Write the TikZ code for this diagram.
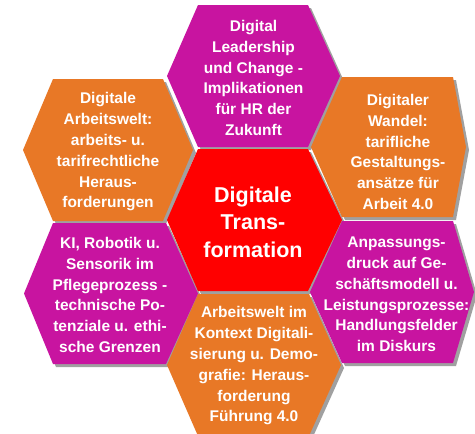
\documentclass[tikz,border=0pt]{standalone}
\usepackage{fontspec}
\setmainfont{Liberation Sans}
\definecolor{hexorange}{HTML}{E87826}
\definecolor{hexmagenta}{HTML}{C814A0}
\definecolor{hexred}{HTML}{FF0000}
\definecolor{hexshadow}{HTML}{A0A0A0}
% #1 colour, #2 left tip x, #3 top-left x, #4 top-right x, #5 right tip x, #6 top y, #7 bottom y
\newcommand\hexshape[7]{%
  \fill[#1] (#2,{(#6+#7)/2}) -- (#3,#6) -- (#4,#6) -- (#5,{(#6+#7)/2}) -- (#4,#7) -- (#3,#7) -- cycle;}
\tikzset{
  hexlabel/.style={text=white, align=center, inner sep=0pt,
    font=\bfseries\fontsize{15.5}{20.8}\selectfont},
  corelabel/.style={text=white, align=center, inner sep=0pt,
    font=\bfseries\fontsize{21.5}{27.5}\selectfont},
}
\begin{document}
\begin{tikzpicture}[x=1pt,y=-1pt]
\useasboundingbox (0,0) rectangle (475,434);
\fill[white] (0,0) rectangle (475,434);
% shadows
\begin{scope}[shift={(3,3)}]
\hexshape{hexshadow}{167}{198}{308}{340}{5}{147}
\hexshape{hexshadow}{167}{198}{308}{342}{149}{291}
\hexshape{hexshadow}{167}{198}{309}{341}{294}{436}
\hexshape{hexshadow}{23}{53}{163}{193}{79}{221}
\hexshape{hexshadow}{24}{53}{166}{198}{223}{364}
\hexshape{hexshadow}{311}{342}{453}{466}{77}{217}
\hexshape{hexshadow}{310}{342}{453}{474}{221}{363}
\end{scope}
% hexagons
\hexshape{hexmagenta}{167}{198}{308}{340}{5}{147}
\hexshape{hexred}{167}{198}{308}{342}{149}{291}
\hexshape{hexorange}{167}{198}{309}{341}{294}{436}
\hexshape{hexorange}{23}{53}{163}{193}{79}{221}
\hexshape{hexmagenta}{24}{53}{166}{198}{223}{364}
\hexshape{hexorange}{311}{342}{453}{466}{77}{217}
\hexshape{hexmagenta}{310}{342}{453}{474}{221}{363}
% labels
\node[hexlabel] (top) at (253.5,78) {Digital\\Leadership\\und Change -\\Implikationen\\für HR der\\Zukunft};
\node[corelabel] (core) at (253,222) {Digitale\\Trans-\\formation};
\node[hexlabel] (ul) at (108,152) {Digitale\\Arbeitswelt:\\arbeits- u.\\tarifrechtliche\\Heraus-\\forderungen};
\node[hexlabel] (ur) at (398,152) {Digitaler\\Wandel:\\tarifliche\\Gestaltungs-\\ansätze für\\Arbeit 4.0};
\node[hexlabel] (ll) at (110,295) {KI, Robotik u.\\Sensorik im\\Pflegeprozess -\\technische Po-\\tenziale u. ethi-\\sche Grenzen};
\node[hexlabel] (lr) at (396.5,294.5) {Anpassungs-\\druck auf Ge-\\schäftsmodell u.\\Leistungsprozesse:\\Handlungsfelder\\im Diskurs};
\node[hexlabel] (bot) at (254,366) {Arbeitswelt im\\Kontext Digitali-\\sierung u. Demo-\\grafie: Heraus-\\forderung\\Führung 4.0};
\end{tikzpicture}
\end{document}
